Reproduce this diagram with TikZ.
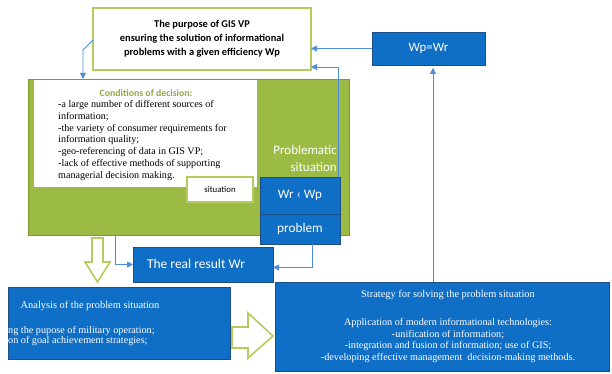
\documentclass[tikz,border=0pt]{standalone}
\usepackage{fontspec}
\setmainfont{Liberation Serif}
\newfontfamily\carlitofont{Carlito}
\usetikzlibrary{arrows.meta}
\definecolor{bfill}{HTML}{0F6EC6}
\definecolor{bborder}{HTML}{1D4F86}
\definecolor{lineblue}{HTML}{4A8FD8}
\definecolor{olive}{HTML}{9CBB45}
\definecolor{olivedark}{HTML}{7F9A35}
\definecolor{lgreen}{HTML}{B5CB5E}
\definecolor{condtxt}{HTML}{8FAA48}
\tikzset{
  box/.style={rectangle, inner sep=0pt, outer sep=0pt},
  bluebox/.style={box, fill=bfill, draw=bborder, line width=0.8pt, text=white},
  conn/.style={draw=lineblue, line width=0.9pt, -{Triangle[length=6pt,width=6pt]}},
  hollow/.style={draw=lgreen, line width=1.6pt, fill=white, line join=miter}
}
\begin{document}
\begin{tikzpicture}[x=1pt,y=-1pt]
\useasboundingbox (0,0) rectangle (612,374);
% purpose box
\node[box, draw=lgreen, line width=1.8pt, fill=white, minimum width=218pt, minimum height=62pt] (purpose) at (202,39) {};
\node[align=center, font=\carlitofont\bfseries\fontsize{10.4}{14}\selectfont] (purposetxt) at (202,39)
  {The purpose of GIS VP\\ensuring the solution of informational\\problems with a given efficiency Wp};
% green area
\node[box, fill=olive, draw=olivedark, line width=0.8pt, minimum width=321pt, minimum height=156pt] (green) at (188.5,157) {};
\node[box, fill=white, minimum width=223pt, minimum height=107pt] (white) at (145.5,133.5) {};
\node[box, fill=white, draw=lgreen, line width=1.4pt, minimum width=66pt, minimum height=25pt, font=\carlitofont\fontsize{8.8}{10}\selectfont] (sit) at (220,189.5) {situation};
\node[font=\carlitofont\bfseries\fontsize{9.8}{11}\selectfont, text=condtxt] (condtitle) at (146,93) {Conditions of decision:};
\node[anchor=north west, align=left, inner sep=0pt, font=\fontsize{10.1}{11.7}\selectfont] (condtxt) at (58,100.5)
  {-a large number of different sources of\\information;\\-the variety of consumer requirements for\\information quality;\\-geo-referencing of data in GIS VP;\\-lack of effective methods of supporting\\managerial decision making.};
\node[anchor=east, align=right, inner sep=0pt, text=white, font=\carlitofont\fontsize{13}{16.5}\selectfont] (probsit) at (337,158.5) {Problematic\\situation};
% blue boxes
\node[bluebox, minimum width=80pt, minimum height=37pt, font=\carlitofont\fontsize{13}{14}\selectfont] (wr) at (300,195.5) {Wr ‹ Wp};
\node[bluebox, minimum width=80pt, minimum height=30pt, font=\carlitofont\fontsize{13.3}{14}\selectfont] (problem) at (300,229) {problem};
\node[bluebox, minimum width=113pt, minimum height=33pt, font=\carlitofont\fontsize{12.8}{14}\selectfont] (wpwr) at (428.5,48.5) {Wp=Wr};
\node[bluebox, minimum width=140pt, minimum height=35pt] (real) at (203,264.5) {};
\node[text=white, font=\carlitofont\fontsize{13.5}{15}\selectfont] (realtxt) at (196,264) {The real result Wr};
\node[bluebox, minimum width=222pt, minimum height=72pt] (analysis) at (119,323) {};
\node[text=white, font=\fontsize{10.4}{12}\selectfont] (antitle) at (90,306) {Analysis of the problem situation};
\node[anchor=west, align=left, inner sep=0pt, text=white, font=\fontsize{10.2}{8.8}\selectfont] (antxt) at (8,336)
  {ng the pupose of military operation;\\on of goal achievement strategies;};
\node[bluebox, minimum width=334pt, minimum height=89pt] (strategy) at (442,326.5) {};
\node[text=white, font=\fontsize{10.4}{12}\selectfont] (sttitle) at (448,295) {Strategy for solving the problem situation};
\node[align=center, text=white, font=\fontsize{10.2}{11.7}\selectfont] (sttxt) at (448,340.5)
  {Application of modern informational technologies:\\-unification of information;\\-integration and fusion of information; use of GIS;\\-developing effective management\ \ decision-making methods.};
% connectors
\draw[conn] ([yshift=-1pt]purpose.west) -- ++(-10,10) -- (83,0 |- green.north);
\draw[conn] (wpwr.west) -- (wpwr.west -| purpose.east);
\draw[conn, shorten >=3pt] ([xshift=4.5pt]wpwr.south |- strategy.north) -- ([xshift=4.5pt]wpwr.south);
\draw[conn] ([xshift=-2pt]wr.north east) |- ([yshift=-28pt]purpose.east);
\draw[conn] ([xshift=12pt]problem.south) |- ([yshift=-3pt]real.east);
\draw[conn] ([xshift=-73.5pt]green.south) |- (real.west);
% hollow arrows
\draw[hollow] (92,238) -- (103,238) -- (103,262) -- (110,262) -- (97.5,282) -- (85,262) -- (92,262) -- cycle;
\draw[hollow] (232,327) -- (248,327) -- (248,313) -- (273,336) -- (248,358) -- (248,348) -- (232,348) -- cycle;
\end{tikzpicture}
\end{document}
